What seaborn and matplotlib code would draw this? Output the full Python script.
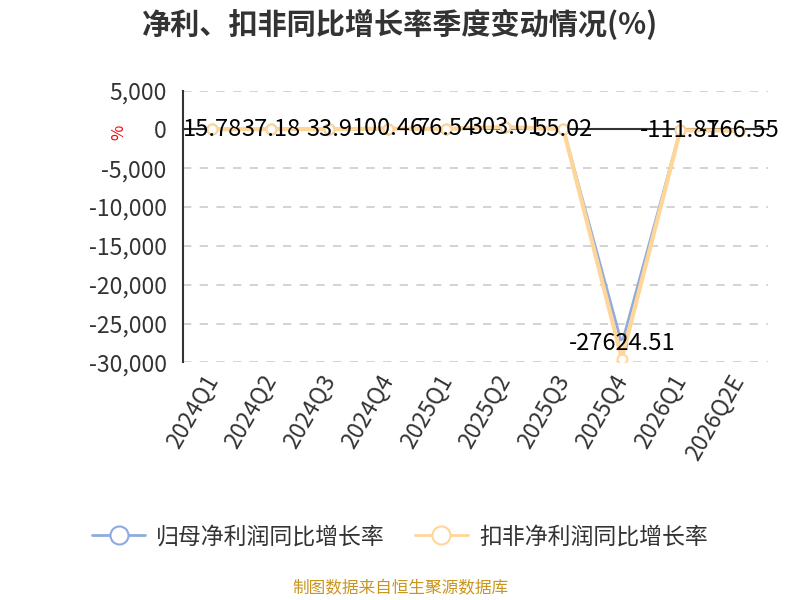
import numpy as np
import pandas as pd
import matplotlib
matplotlib.use("Agg")
import matplotlib.pyplot as plt
from matplotlib.lines import Line2D
import seaborn as sns

# data
quarters = ['2024Q1', '2024Q2', '2024Q3', '2024Q4', '2025Q1',
            '2025Q2', '2025Q3', '2025Q4', '2026Q1', '2026Q2E']
net_profit_yoy = [15.78, 37.18, 33.9, 100.46, 76.54,
                  303.01, 55.02, -27624.51, -111.87, -166.55]
deducted_yoy = [20, 40, 30, 110, 80,
                290, 60, -29500, -100, -150]
series_names = ['归母净利润同比增长率', '扣非净利润同比增长率']
y_ticks = [5000, 0, -5000, -10000, -15000, -20000, -25000, -30000]

blue = '#8FAADC'
orange = '#FFD699'

sns.set_theme(style='white')
plt.rcParams['font.family'] = ['Noto Sans CJK SC', 'DejaVu Sans']
plt.rcParams['axes.unicode_minus'] = False

df = pd.DataFrame({'quarter': quarters,
                   'net': net_profit_yoy,
                   'deducted': deducted_yoy})

fig = plt.figure(figsize=(8, 6), dpi=100)
ax = fig.add_axes([0.229, 0.396, 0.731, 0.453])

sns.lineplot(data=df, x='quarter', y='net', ax=ax, color=blue, linewidth=2,
             marker='o', markersize=7, markerfacecolor='white',
             markeredgecolor=blue, markeredgewidth=1.5, sort=False, zorder=3)
sns.lineplot(data=df, x='quarter', y='deducted', ax=ax, color=orange, linewidth=3,
             marker='o', markersize=7, markerfacecolor='white',
             markeredgecolor=orange, markeredgewidth=1.5, sort=False, zorder=4)

# data labels (blue series)
for i, v in enumerate(net_profit_yoy):
    ax.text(i, v, str(v), ha='center', va='center', fontsize=17,
            color='black', zorder=6)

ax.set_xlim(-0.5, len(quarters) - 0.5)
ax.set_ylim(-30000, 5000)
ax.set_yticks(y_ticks)
ax.set_yticklabels([f'{t:,}' for t in y_ticks], fontsize=16.5, color='#333333')
ax.tick_params(axis='y', length=6, width=1.5, color='#333333', direction='out', pad=6)
ax.yaxis.grid(True, linestyle=(0, (5, 5)), color='#cccccc', linewidth=1.2)
ax.xaxis.grid(False)

for side in ['top', 'right']:
    ax.spines[side].set_visible(False)
ax.spines['left'].set_color('#333333')
ax.spines['left'].set_linewidth(1.5)

# category axis line sits at zero, ticks at band boundaries
ax.spines['bottom'].set_position(('data', 0))
ax.spines['bottom'].set_color('#333333')
ax.spines['bottom'].set_linewidth(1.5)
ax.set_xticks(np.arange(-0.5, len(quarters), 1.0))
ax.set_xticklabels([])
ax.tick_params(axis='x', length=7, width=1.5, color='#333333', direction='out')
ax.set_xlabel('')

sec = ax.secondary_xaxis('bottom')
sec.set_xticks(range(len(quarters)))
sec.set_xticklabels(quarters, rotation=60, ha='right', va='center',
                    rotation_mode='anchor', fontsize=16.5, color='#333333')
sec.tick_params(axis='x', length=0, pad=10)
sec.spines['bottom'].set_visible(False)

ax.set_ylabel('%', color='red', fontsize=12, rotation=90)
ax.yaxis.set_label_coords(-0.095, 0.845)

fig.suptitle('净利、扣非同比增长率季度变动情况(%)', x=0.5, y=0.985,
             fontsize=21, fontweight='bold', color='#333333')

handles = [Line2D([], [], color=c, linewidth=2, marker='o', markersize=13,
                  markerfacecolor='white', markeredgecolor=c, markeredgewidth=1.5)
           for c in (blue, orange)]
fig.legend(handles, series_names, loc='center', bbox_to_anchor=(0.5, 0.105),
           ncol=2, frameon=False, fontsize=16.5, labelcolor='#333333',
           handlelength=2.3, columnspacing=1.3, handletextpad=0.5)

fig.text(0.5, 0.005, '制图数据来自恒生聚源数据库', ha='center', va='bottom',
         fontsize=12, color='#C8961E')

plt.savefig('out.png', dpi=100)
plt.close()
